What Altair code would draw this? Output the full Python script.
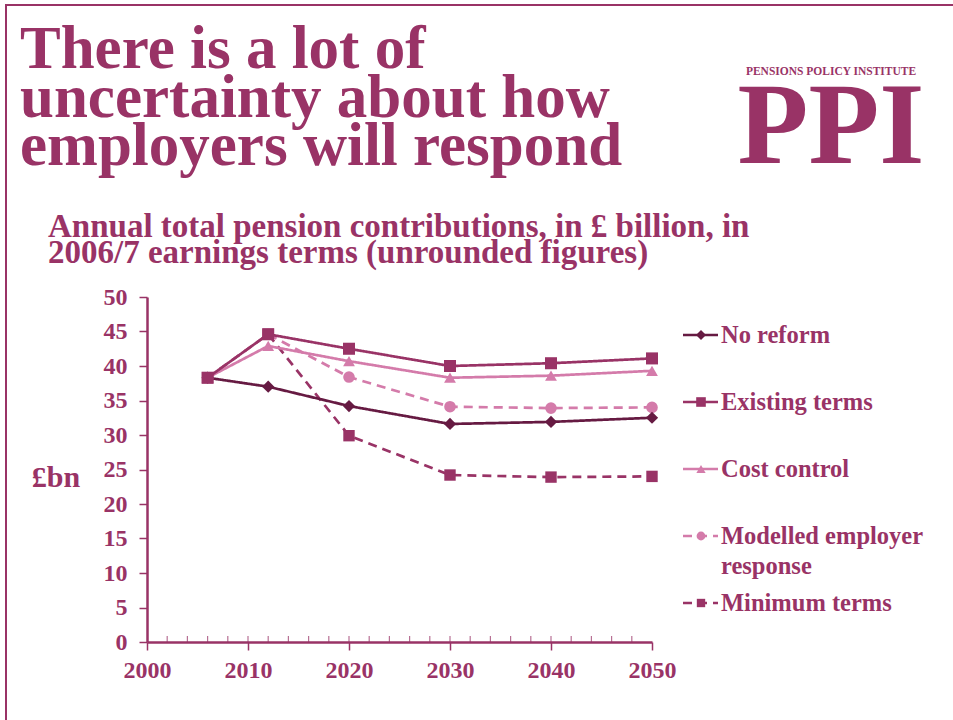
import altair as alt
import pandas as pd

# ---------------- data ----------------
years = [2006, 2012, 2020, 2030, 2040, 2050]
series_names = ["No reform", "Existing terms", "Cost control",
                "Modelled employer response", "Minimum terms"]
no_reform = [38.3, 37.0, 34.2, 31.6, 31.9, 32.5]
existing_terms = [38.3, 44.6, 42.5, 40.0, 40.4, 41.1]
cost_control = [38.3, 42.9, 40.7, 38.3, 38.6, 39.3]
modelled_response = [38.3, 44.6, 38.4, 34.1, 33.9, 34.0]
minimum_terms = [38.3, 44.6, 29.9, 24.2, 23.9, 24.0]
legend_labels = ["No reform", "Existing terms", "Cost control",
                 "Modelled employer\nresponse", "Minimum terms"]
x_ticks = [2000, 2010, 2020, 2030, 2040, 2050]
x_minor_ticks = list(range(2002, 2050, 2))
y_ticks = [0, 5, 10, 15, 20, 25, 30, 35, 40, 45, 50]
title_lines = ["There is a lot of", "uncertainty about how", "employers will respond"]
subtitle_lines = ["Annual total pension contributions, in \u00a3 billion, in",
                  "2006/7 earnings terms (unrounded figures)"]
unit_label = "\u00a3bn"
logo_small = "PENSIONS POLICY INSTITUTE"
logo_big = "PPI"

# ---------------- styling ----------------
PURPLE = "#993366"
DARK = "#661A42"
PINK = "#D47BAA"
FONT = "Liberation Serif"
W, H = 505, 345
PAD_L, PAD_T = 147, 297

values_by_series = {
    "No reform": no_reform,
    "Existing terms": existing_terms,
    "Cost control": cost_control,
    "Modelled employer response": modelled_response,
    "Minimum terms": minimum_terms,
}
draw_order = ["Minimum terms", "Modelled employer response", "No reform",
              "Cost control", "Existing terms"]
rows = []
for s in draw_order:
    for yr, v in zip(years, values_by_series[s]):
        rows.append({"year": yr, "series": s, "value": v})
df = pd.DataFrame(rows)

legend_df = pd.DataFrame({"series": series_names, "label": legend_labels})
minor_df = pd.DataFrame({"year": x_minor_ticks})
one = pd.DataFrame({"k": [0]})

color_scale = alt.Scale(domain=series_names, range=[DARK, PURPLE, PINK, PINK, PURPLE])
dash_scale = alt.Scale(domain=series_names, range=[[1, 0], [1, 0], [1, 0], [9, 6], [9, 6]])
shape_scale = alt.Scale(domain=series_names,
                        range=["diamond", "square", "triangle-up", "circle", "square"])

x_scale = alt.Scale(domain=[2000, 2050], nice=False, zero=False)
y_scale = alt.Scale(domain=[0, 50], nice=False)

x_axis = alt.Axis(values=x_ticks, format="d", title=None, grid=False,
                  domainColor=PURPLE, domainWidth=2.5, tickColor=PURPLE, tickWidth=1.5,
                  tickSize=8, labelFont=FONT, labelFontSize=24, labelFontWeight="bold",
                  labelColor=PURPLE, labelPadding=8, labelFlush=False, labelOverlap=False)
y_axis = alt.Axis(values=y_ticks, title=None, grid=False,
                  domainColor=PURPLE, domainWidth=2.5, tickColor=PURPLE, tickWidth=1.5,
                  tickSize=8, labelFont=FONT, labelFontSize=24, labelFontWeight="bold",
                  labelColor=PURPLE, labelPadding=12, labelFlush=False, labelOverlap=False)

# ---------------- decorations ----------------
border_top = alt.Chart(one).mark_rule(color=PURPLE, strokeWidth=2).encode(
    x=alt.value(-142), x2=alt.value(806), y=alt.value(-292))
border_left = alt.Chart(one).mark_rule(color=PURPLE, strokeWidth=2).encode(
    x=alt.value(-141), y=alt.value(-292), y2=alt.value(423))

title = alt.Chart(one).mark_text(
    font=FONT, fontSize=61, fontWeight="bold", color=PURPLE, align="left",
    baseline="alphabetic", lineHeight=48.5).encode(
    x=alt.value(20 - PAD_L), y=alt.value(68 - PAD_T), text=alt.value(title_lines))

subtitle = alt.Chart(one).mark_text(
    font=FONT, fontSize=33, fontWeight="bold", color=PURPLE, align="left",
    baseline="alphabetic", lineHeight=26).encode(
    x=alt.value(48 - PAD_L), y=alt.value(237 - PAD_T), text=alt.value(subtitle_lines))

logo1 = alt.Chart(one).mark_text(
    font=FONT, fontSize=11.5, fontWeight="bold", color=PURPLE, align="center",
    baseline="alphabetic").encode(
    x=alt.value(831 - PAD_L), y=alt.value(75 - PAD_T), text=alt.value(logo_small))
logo2 = alt.Chart(one).mark_text(
    font=FONT, fontSize=116, fontWeight="bold", color=PURPLE, align="center",
    baseline="alphabetic").encode(
    x=alt.value(831 - PAD_L), y=alt.value(163 - PAD_T), text=alt.value(logo_big))

unit = alt.Chart(one).mark_text(
    font=FONT, fontSize=30, fontWeight="bold", color=PURPLE, align="center",
    baseline="middle").encode(
    x=alt.value(56 - PAD_L), y=alt.value(478 - PAD_T), text=alt.value(unit_label))

minor = alt.Chart(minor_df).mark_rule(color=PURPLE, strokeWidth=1.2, opacity=0.7).encode(
    x=alt.X("year:Q", scale=x_scale, axis=x_axis),
    y=alt.value(H - 6), y2=alt.value(H))

# ---------------- data layers ----------------
lines = alt.Chart(df).mark_line(strokeWidth=2.7).encode(
    x=alt.X("year:Q", scale=x_scale, axis=x_axis),
    y=alt.Y("value:Q", scale=y_scale, axis=y_axis),
    color=alt.Color("series:N", scale=color_scale, legend=None),
    strokeDash=alt.StrokeDash("series:N", scale=dash_scale, legend=None),
    detail="series:N",
)
points = alt.Chart(df).mark_point(filled=True, opacity=1).encode(
    x=alt.X("year:Q", scale=x_scale, axis=x_axis),
    y=alt.Y("value:Q", scale=y_scale, axis=None),
    color=alt.Color("series:N", scale=color_scale, legend=None),
    shape=alt.Shape("series:N", scale=shape_scale, legend=None),
    size=alt.Size("series:N", scale=alt.Scale(domain=series_names, range=[150, 130, 150, 55, 65]),
                  legend=None),
)

# ---------------- custom legend ----------------
leg_y = alt.Y("series:N", scale=alt.Scale(type="point", domain=series_names,
                                          range=[38, 306], padding=0), axis=None)
leg_lines = alt.Chart(legend_df).mark_rule(strokeWidth=2.7).encode(
    x=alt.value(536), x2=alt.value(571), y=leg_y,
    color=alt.Color("series:N", scale=color_scale, legend=None),
    strokeDash=alt.StrokeDash("series:N", scale=dash_scale, legend=None),
)
leg_points = alt.Chart(legend_df).mark_point(filled=True, opacity=1).encode(
    x=alt.value(554), y=leg_y,
    color=alt.Color("series:N", scale=color_scale, legend=None),
    shape=alt.Shape("series:N", scale=shape_scale, legend=None),
    size=alt.Size("series:N", scale=alt.Scale(domain=series_names, range=[100, 70, 90, 40, 45]),
                  legend=None),
)
leg_text = alt.Chart(legend_df).mark_text(
    font=FONT, fontSize=24.5, fontWeight="bold", color=PURPLE, align="left",
    baseline="alphabetic", dy=8, lineBreak="\n", lineHeight=30).encode(
    x=alt.value(574), y=leg_y, text="label:N")

chart = alt.layer(
    border_top, border_left, title, subtitle, logo1, logo2, unit,
    minor, lines, points, leg_lines, leg_points, leg_text
).resolve_scale(
    y="independent", size="independent"
).properties(
    width=W, height=H,
    autosize=alt.AutoSizeParams(type="none"),
    padding={"left": PAD_L, "top": PAD_T, "right": 953 - PAD_L - W, "bottom": 720 - PAD_T - H},
    background="white",
).configure_view(stroke=None)

chart.save("out.html", embed_options={"renderer": "svg", "actions": False})
